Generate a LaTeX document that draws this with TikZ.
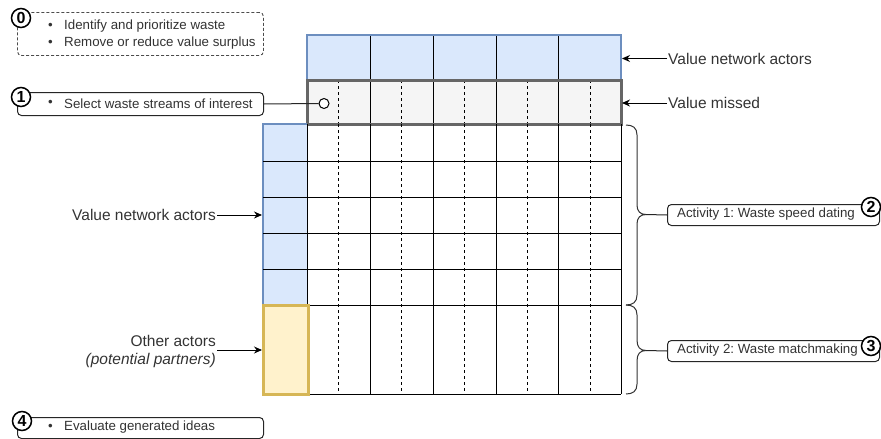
\documentclass[tikz,border=0pt]{standalone}
\usepackage{fontspec}
\setmainfont{Liberation Sans}
\usetikzlibrary{arrows.meta}
\frenchspacing
\definecolor{txt}{HTML}{333333}
\definecolor{bluefill}{HTML}{DAE8FC}
\definecolor{blueline}{HTML}{6C8EBF}
\definecolor{grayfill}{HTML}{F5F5F5}
\definecolor{grayline}{HTML}{666666}
\definecolor{yellowfill}{HTML}{FFF2CC}
\definecolor{yellowline}{HTML}{D6B656}

\tikzset{
  notebox/.style={draw=black!85, line width=1pt, rounded corners=4pt, fill=white, anchor=north west, inner sep=0pt},
  num/.style={circle, draw=black, line width=1.5pt, fill=white, inner sep=0pt, minimum size=19pt, font=\fontsize{16}{16}\selectfont\bfseries},
  boxtext/.style={anchor=west, text=txt, inner sep=0pt, font=\fontsize{13.3}{15}\selectfont},
  lbl/.style={text=txt, inner ysep=0pt, inner xsep=1pt, font=\fontsize{15.5}{18}\selectfont},
  pointer/.style={-{Stealth[length=8pt,width=7pt]}, line width=1pt, draw=black},
  gridline/.style={line width=1pt, draw=black},
  midline/.style={line width=1pt, draw=black, dash pattern=on 3pt off 3pt},
  bracket/.style={line width=1pt, draw=black!80},
  link/.style={line width=1pt, draw=black!85},
}

\begin{document}
\begin{tikzpicture}[x=1pt,y=-1pt]
\useasboundingbox (0,0) rectangle (881,439);

% ---- header row: value network actors
\fill[bluefill] (307,35) rectangle (621,80);
\foreach \x in {370,433,496,558} \draw[gridline] (\x,35) -- (\x,80);
\draw[blueline, line width=2.8pt] (307,35) rectangle (621,80);

% ---- value missed row
\fill[grayfill] (307,80) rectangle (621,124);
\foreach \x in {370,433,496,558} \draw[gridline] (\x,80) -- (\x,124);
\foreach \x in {338.5,401.5,464.5,527,590} \draw[midline] (\x,80) -- (\x,124);
\draw[grayline, line width=3pt] (307,80) rectangle (621,124);

% ---- left actor column
\fill[bluefill] (263,124) rectangle (307,305);
\draw[blueline, line width=2.8pt] (307,124) -- (263,124) -- (263,305);
\foreach \y in {161,197,233,269} \draw[gridline] (263,\y) -- (307,\y);

% ---- main grid
\foreach \x in {338.5,401.5,464.5,527,590} \draw[midline] (\x,124) -- (\x,394);
\foreach \x in {307,370,433,496,558,621} \draw[gridline] (\x,124) -- (\x,394);
\foreach \y in {161,197,233,269,305,394} \draw[gridline] (307,\y) -- (621,\y);

% ---- other actors cell
\filldraw[fill=yellowfill, draw=yellowline, line width=3pt] (263,305) rectangle (308,394);

% ---- marker in the value missed row
\node[circle, draw=black, fill=white, minimum size=10pt, inner sep=0pt, line width=1pt] (pick) at (324,103.5) {};

% ---- step boxes on the left
\node[notebox, dashed, dash pattern=on 3pt off 2pt, draw=black!70, line width=0.9pt, minimum width=246pt, minimum height=43pt] (b0) at (17,12) {};
\node[boxtext] (b0d1) at (48,26) {\textbullet};
\node[boxtext] (b0t1) at (64,26) {Identify and prioritize waste};
\node[boxtext] (b0d2) at (48,43) {\textbullet};
\node[boxtext] (b0t2) at (64,43) {Remove or reduce value surplus};
\node[num] (n0) at (21,18) {0};

\node[notebox, minimum width=246pt, minimum height=23pt] (b1) at (17,92) {};
\node[boxtext] (b1d) at (48,103.5) {\textbullet};
\node[boxtext] (b1t) at (64,103.5) {Select waste streams of interest};
\node[num] (n1) at (21,97) {1};
\draw[link] (b1.east) -- (pick.west);

\node[notebox, minimum width=246pt, minimum height=21pt] (b4) at (17,417) {};
\node[boxtext] (b4d) at (48,427.5) {\textbullet};
\node[boxtext] (b4t) at (64,427.5) {Evaluate generated ideas};
\node[num] (n4) at (22,421) {4};

% ---- labels with pointers
\coordinate (hdrR) at (622,58.5);
\coordinate (missR) at (622,103);
\coordinate (colL) at (262,215);
\coordinate (othL) at (262,350);
\node[lbl, anchor=west] (lA) at (667,58.5) {Value network actors};
\node[lbl, anchor=west] (lM) at (667,103) {Value missed};
\draw[pointer] (lA.west) -- (hdrR);
\draw[pointer] (lM.west) -- (missR);

\node[lbl, anchor=east] (lL) at (217,215) {Value network actors};
\draw[pointer] (lL.east) -- (colL);
\node[lbl, anchor=east, align=right] (lO) at (217,351) {Other actors\\\textit{(potential partners)}};
\draw[pointer] (lO.east |- othL) -- (othL);

% ---- brackets on the right
\draw[bracket] (626,125) .. controls (633,125) and (637,128) .. (637,135) -- (637,205)
  .. controls (637,211) and (640,214.5) .. (646,214.5)
  .. controls (640,214.5) and (637,218) .. (637,224) -- (637,295)
  .. controls (637,302) and (633,305) .. (626,305);
\draw[bracket] (626,305) .. controls (633,305) and (637,308) .. (637,315) -- (637,340)
  .. controls (637,347) and (640,350.5) .. (646,350.5)
  .. controls (640,350.5) and (637,354) .. (637,361) -- (637,384)
  .. controls (637,391) and (633,394) .. (626,394);
\coordinate (tip1) at (646,214.5);
\coordinate (tip2) at (646,350.5);

% ---- activity boxes
\node[notebox, minimum width=212pt, minimum height=21pt] (a1) at (667,204) {};
\node[boxtext] (a1t) at (677,214.5) {Activity 1: Waste speed dating};
\node[num] (n2) at (871,207) {2};
\draw[link] (tip1) -- (a1.west);

\node[notebox, minimum width=212pt, minimum height=21pt] (a2) at (667,340) {};
\node[boxtext] (a2t) at (677,350.5) {Activity 2: Waste matchmaking};
\node[num] (n3) at (871,346) {3};
\draw[link] (tip2) -- (a2.west);
\end{tikzpicture}
\end{document}
